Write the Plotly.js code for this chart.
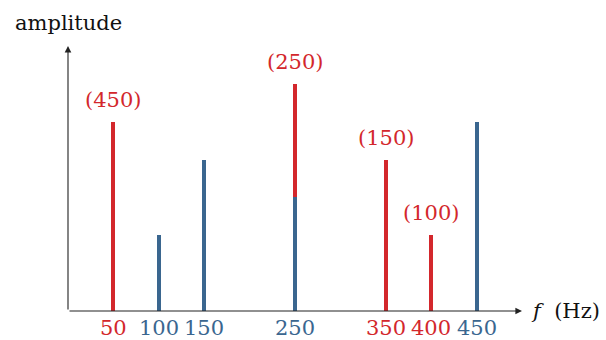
<!DOCTYPE html>
<html>
<head>
<meta charset="utf-8">
<script src="https://cdn.plot.ly/plotly-3.0.1.min.js"></script>
<style>html,body{margin:0;padding:0;background:#fff;}#chart{width:606px;height:340px;}</style>
</head>
<body>
<div id="chart"></div>
<script>
// Data
const blueFreq = [100, 150, 250, 450];
const blueAmp = [2, 4, 3, 5];
const redFreq = [50, 250, 350, 400];
const redAmp = [5, 3, 4, 2];
const redLabels = ["(450)", "(250)", "(150)", "(100)"];
const tickVals = [50, 100, 150, 250, 350, 400, 450];
const tickLabels = ["50", "100", "150", "250", "350", "400", "450"];
const tickIsRed = [true, false, false, false, true, true, false];

const BLUE = "#3a668f";
const RED = "#d3272c";
const FONT = "DejaVu Serif";
const FS = 21;

const traces = [
  {type: "bar", x: blueFreq, y: blueAmp, width: 4.4, marker: {color: BLUE, line: {width: 0}}, hoverinfo: "skip"},
  {type: "bar", x: redFreq, y: redAmp, width: 4.4, marker: {color: RED, line: {width: 0}}, hoverinfo: "skip"}
];

// stacked tops for red labels
const redTops = redFreq.map((f, i) => {
  const bi = blueFreq.indexOf(f);
  return redAmp[i] + (bi >= 0 ? blueAmp[bi] : 0);
});

const annotations = [];
redFreq.forEach((f, i) => {
  annotations.push({x: f, y: redTops[i], xref: "x", yref: "y", text: redLabels[i], showarrow: false,
    yanchor: "bottom", yshift: 9, borderpad: 0, font: {family: FONT, size: FS, color: RED}});
});
tickVals.forEach((v, i) => {
  annotations.push({x: v, y: 0, xref: "x", yref: "y", text: tickLabels[i], showarrow: false,
    yanchor: "top", yshift: -4, borderpad: 0, font: {family: FONT, size: FS, color: tickIsRed[i] ? RED : BLUE}});
});
// axes arrows
annotations.push({x: 500, y: 0, ax: 0, ay: 0, xref: "x", yref: "y", axref: "x", ayref: "y", text: "",
  showarrow: true, arrowhead: 2, arrowsize: 1.2, arrowwidth: 1.1, arrowcolor: "#222"});
annotations.push({x: 0, y: 7, ax: 0, ay: 0, xref: "x", yref: "y", axref: "x", ayref: "y", text: "",
  showarrow: true, arrowhead: 2, arrowsize: 1.2, arrowwidth: 1.1, arrowcolor: "#222"});
annotations.push({x: 0, y: 7, xref: "x", yref: "y", text: "amplitude", showarrow: false,
  yanchor: "bottom", yshift: 10, borderpad: 0, font: {family: FONT, size: FS, color: "#111"}});
annotations.push({x: 500, y: 0, xref: "x", yref: "y", text: "<i>f</i>  (Hz)", showarrow: false,
  xanchor: "left", xshift: 8, borderpad: 0, font: {family: FONT, size: FS, color: "#111"}});

const layout = {
  width: 606, height: 340,
  margin: {l: 68, r: 84, t: 46, b: 29},
  paper_bgcolor: "#fff", plot_bgcolor: "#fff",
  barmode: "stack", bargap: 0,
  showlegend: false,
  xaxis: {range: [0, 500], showgrid: false, zeroline: false, showline: false, showticklabels: false, ticks: ""},
  yaxis: {range: [0, 7], showgrid: false, zeroline: false, showline: false, showticklabels: false, ticks: ""},
  annotations: annotations
};

Plotly.newPlot("chart", traces, layout, {displayModeBar: false, staticPlot: true});
</script>
</body>
</html>
